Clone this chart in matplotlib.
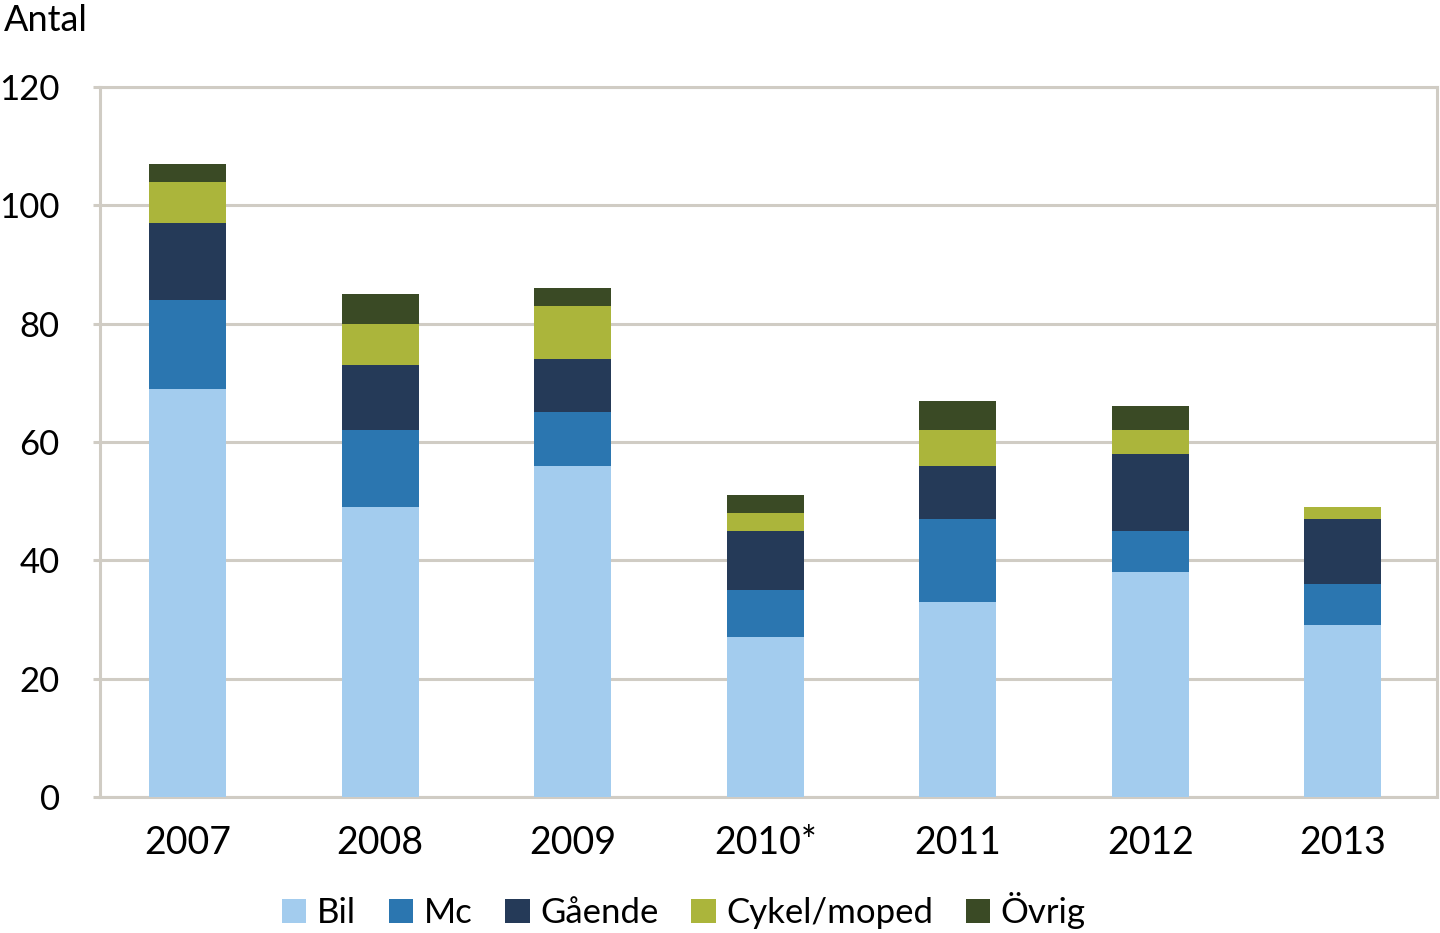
import numpy as np
import matplotlib.pyplot as plt

plt.rcParams['font.family'] = ['Lato', 'DejaVu Sans']

years = ['2007', '2008', '2009', '2010*', '2011', '2012', '2013']
bil = [69, 49, 56, 27, 33, 38, 29]
mc = [15, 13, 9, 8, 14, 7, 7]
gaende = [13, 11, 9, 10, 9, 13, 11]
cykel = [7, 7, 9, 3, 6, 4, 2]
ovrig = [3, 5, 3, 3, 5, 4, 0]

series = [('Bil', bil, '#A3CCEE'),
          ('Mc', mc, '#2B76B0'),
          ('Gående', gaende, '#253A58'),
          ('Cykel/moped', cykel, '#ABB53B'),
          ('Övrig', ovrig, '#3A4A25')]

grid_col = '#D0CCC4'

fig = plt.figure(figsize=(14.4, 9.33), dpi=100)
ax = fig.add_axes([0.0694, 0.1458, 0.9286, 0.761])

x = np.arange(len(years))
bottom = np.zeros(len(years))
for name, vals, col in series:
    ax.bar(x, vals, 0.40, bottom=bottom, color=col, label=name, zorder=3)
    bottom += np.array(vals)

ax.set_xlim(-0.455, len(years) - 0.51)
ax.set_ylim(0, 120)
ax.set_yticks(range(0, 121, 20))
ax.set_xticks(x)
ax.set_xticklabels(years)
ax.yaxis.grid(True, color=grid_col, linewidth=2.2, zorder=0)
for s in ax.spines.values():
    s.set_color(grid_col)
    s.set_linewidth(2.2)
ax.tick_params(axis='y', length=5, width=2.2, color=grid_col, pad=24, labelsize=25)
ax.tick_params(axis='x', length=0, pad=20, labelsize=27)

fig.text(0.003, 0.978, 'Antal', fontsize=26, va='center', ha='left')

fig.legend(loc='center', bbox_to_anchor=(0.475, 0.024), ncol=5, frameon=False,
           fontsize=25, handlelength=0.7, handleheight=0.7, handletextpad=0.3,
           columnspacing=0.95)

fig.savefig('out.png', dpi=100)
